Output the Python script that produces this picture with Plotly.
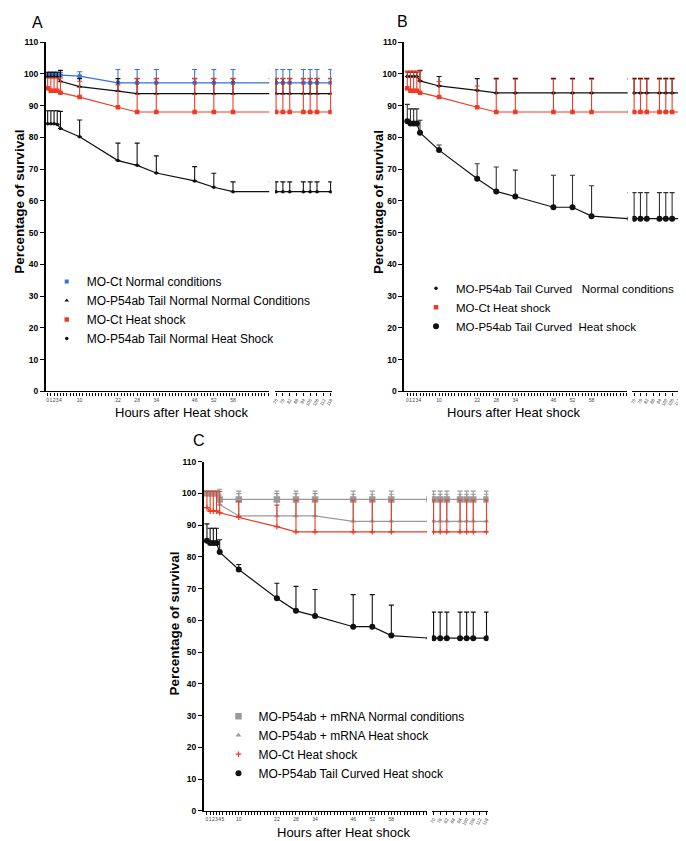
import plotly.graph_objects as go

# ---------------- data ----------------
hours = [0, 1, 2, 3, 4, 10, 22, 28, 34, 46, 52, 58, 70, 76, 82, 94, 100, 106, 118]
left_labels_ab = [0, 1, 2, 3, 4, 10, 22, 28, 34, 46, 52, 58]
left_labels_c = [0, 1, 2, 3, 4, 5, 10, 22, 28, 34, 46, 52, 58]
right_ticks = [70, 76, 82, 88, 94, 100, 106, 112, 118]
y_ticks = [0, 10, 20, 30, 40, 50, 60, 70, 80, 90, 100, 110]

# Panel A
a_names = ["MO-Ct Normal conditions",
           "MO-P54ab Tail Normal Normal Conditions",
           "MO-Ct Heat shock",
           "MO-P54ab Tail Normal Heat Shock"]
a_ct_nc = [99.6, 99.6, 99.6, 99.6, 99.6, 99.3, 97.2, 97.2, 97.2, 97.2, 97.2, 97.2, 97.2, 97.2, 97.2, 97.2, 97.2, 97.2, 97.2]
a_ct_nc_err = [0.9, 0.9, 0.9, 0.9, 0.9, 1.4, 4.2, 4.2, 4.2, 4.2, 4.2, 4.2, 4.2, 4.2, 4.2, 4.2, 4.2, 4.2, 4.2]
a_tn_nc = [99.0, 99.0, 99.0, 99.0, 97.7, 96.0, 94.6, 93.8, 93.8, 93.8, 93.8, 93.8, 93.8, 93.8, 93.8, 93.8, 93.8, 93.8, 93.8]
a_tn_nc_err = [1.5, 1.5, 1.5, 1.5, 3.4, 2.5, 3.9, 4.7, 4.7, 4.7, 4.7, 4.7, 4.7, 4.7, 4.7, 4.7, 4.7, 4.7, 4.7]
a_ct_hs = [95.5, 94.7, 94.7, 94.7, 94.1, 92.7, 89.5, 88.0, 88.0, 88.0, 88.0, 88.0, 88.0, 88.0, 88.0, 88.0, 88.0, 88.0, 88.0]
a_ct_hs_err = [3.2, 4.0, 4.0, 4.0, 4.6, 5.0, 7.0, 10.6, 10.6, 10.6, 10.6, 10.6, 10.6, 10.6, 10.6, 10.6, 10.6, 10.6, 10.6]
a_tn_hs = [84.3, 84.3, 84.3, 84.1, 82.8, 80.2, 72.7, 71.2, 68.8, 66.3, 64.3, 62.9, 62.9, 62.9, 62.9, 62.9, 62.9, 62.9, 62.9]
a_tn_hs_err = [4.1, 4.1, 4.1, 4.3, 5.4, 5.3, 5.5, 7.0, 5.4, 4.5, 4.4, 3.1, 3.1, 3.1, 3.1, 3.1, 3.1, 3.1, 3.1]

# Panel B
b_names = ["MO-P54ab Tail Curved   Normal conditions",
           "MO-Ct Heat shock",
           "MO-P54ab Tail Curved  Heat shock"]
b_tc_nc = [99.2, 99.2, 99.2, 99.2, 97.8, 96.2, 94.8, 94.0, 94.0, 94.0, 94.0, 94.0, 94.0, 94.0, 94.0, 94.0, 94.0, 94.0, 94.0]
b_tc_nc_err = [1.4, 1.4, 1.4, 1.4, 3.3, 3.0, 3.7, 4.6, 4.6, 4.6, 4.6, 4.6, 4.6, 4.6, 4.6, 4.6, 4.6, 4.6, 4.6]
b_ct_hs = [95.5, 94.7, 94.7, 94.7, 94.1, 92.7, 89.5, 88.0, 88.0, 88.0, 88.0, 88.0, 88.0, 88.0, 88.0, 88.0, 88.0, 88.0, 88.0]
b_ct_hs_err = [5.4, 6.2, 6.2, 6.2, 6.8, 4.9, 6.7, 10.3, 10.3, 10.3, 10.3, 10.3, 10.3, 10.3, 10.3, 10.3, 10.3, 10.3, 10.3]
b_tc_hs = [85.1, 84.4, 84.4, 84.4, 81.5, 76.0, 67.0, 63.0, 61.4, 58.0, 58.0, 55.2, 54.4, 54.4, 54.4, 54.4, 54.4, 54.4, 54.4]
b_tc_hs_err = [5.3, 4.6, 4.6, 4.6, 3.9, 1.6, 4.7, 7.7, 8.3, 10.1, 10.1, 9.6, 8.2, 8.2, 8.2, 8.2, 8.2, 8.2, 8.2]

# Panel C
c_names = ["MO-P54ab + mRNA Normal conditions",
           "MO-P54ab + mRNA Heat shock",
           "MO-Ct Heat shock",
           "MO-P54ab Tail Curved Heat shock"]
c_mr_nc = [100.0, 100.0, 100.0, 100.0, 98.1, 98.1, 98.1, 98.1, 98.1, 98.1, 98.1, 98.1, 98.1, 98.1, 98.1, 98.1, 98.1, 98.1, 98.1]
c_mr_nc_err = [0.7, 0.7, 0.7, 0.7, 3.2, 2.6, 2.6, 2.6, 2.6, 2.6, 2.6, 2.6, 2.6, 2.6, 2.6, 2.6, 2.6, 2.6, 2.6]
c_mr_hs = [100.0, 100.0, 100.0, 100.0, 96.5, 92.9, 92.9, 92.9, 92.9, 91.2, 91.2, 91.2, 91.2, 91.2, 91.2, 91.2, 91.2, 91.2, 91.2]
c_mr_hs_err = [0.7, 0.7, 0.7, 0.7, 3.0, 7.0, 7.0, 7.0, 7.0, 8.5, 8.5, 8.5, 8.5, 8.5, 8.5, 8.5, 8.5, 8.5, 8.5]
c_ct_hs = [95.5, 94.4, 94.4, 94.4, 93.9, 92.5, 89.5, 87.9, 87.9, 87.9, 87.9, 87.9, 87.9, 87.9, 87.9, 87.9, 87.9, 87.9, 87.9]
c_ct_hs_err = [5.1, 6.2, 6.2, 6.2, 6.7, 5.0, 6.8, 10.0, 10.0, 10.0, 10.0, 10.0, 10.0, 10.0, 10.0, 10.0, 10.0, 10.0, 10.0]
c_tc_hs = [85.1, 84.4, 84.4, 84.4, 81.5, 76.0, 67.0, 63.0, 61.4, 58.0, 58.0, 55.2, 54.4, 54.4, 54.4, 54.4, 54.4, 54.4, 54.4]
c_tc_hs_err = [5.3, 4.6, 4.6, 4.6, 3.9, 1.6, 4.7, 7.7, 8.3, 10.1, 10.1, 9.6, 8.2, 8.2, 8.2, 8.2, 8.2, 8.2, 8.2]

# ---------------- styling / layout ----------------
W, H = 686, 841
FONT = "Liberation Sans, Arial, sans-serif"
BLUE = "#3b6fd9"
RED = "#ee3b24"
GREY = "#9a9a9a"
BLACK = "#111111"


def fx(p):
    return p / W


def fy(p):
    return 1 - p / H


panels = {
    "A": dict(xl="x", xr="x2", y="y", dom_l=(35, 260), dom_r=(266, 323),
              rng_l=(-0.6, 69.3), rng_r=(69.1, 118.9), ydom=(29.5, 383),
              labels=left_labels_ab, legend="legend", legfont=12,
              letter=(27, 10), ytitle=(9, 191), xtitle=(172, 404),
              leg=(36, 257)),
    "B": dict(xl="x3", xr="x4", y="y2", dom_l=(396, 621), dom_r=(626, 680),
              rng_l=(-1.0, 69.3), rng_r=(68.4, 119.2), ydom=(29.5, 383),
              labels=left_labels_ab, legend="legend2", legfont=11.5,
              letter=(394, 9), ytitle=(370, 191), xtitle=(506, 404),
              leg=(408, 264)),
    "C": dict(xl="x5", xr="x6", y="y3", dom_l=(194, 419), dom_r=(424, 481),
              rng_l=(-1.06, 69.2), rng_r=(68.5, 119.8), ydom=(454, 807.5),
              labels=left_labels_c, legend="legend3", legfont=12,
              letter=(189, 433), ytitle=(165, 618), xtitle=(335, 829),
              leg=(209, 697)),
}

fig = go.Figure()


def add_series(p, name, yvals, err, color, symbol, msize, errcolor=None, lw=1.2, mline=0):
    cfg = panels[p]
    errcolor = errcolor or color
    mk = dict(color=color, symbol=symbol, size=msize, line=dict(width=mline, color=color))
    # legend entry (marker only, like the reference's compact key)
    fig.add_trace(go.Scatter(
        x=[None], y=[None], name=name, mode="markers",
        xaxis=cfg["xl"], yaxis=cfg["y"], legend=cfg["legend"],
        showlegend=True, legendgroup=p + name, marker=mk))
    n_left = hours.index(70) + 1
    for part in ("left", "right"):
        if part == "left":
            xs, ys, es = hours[:n_left], yvals[:n_left], err[:n_left]
            xa = cfg["xl"]
        else:
            xs, ys, es = hours[n_left - 1:], yvals[n_left - 1:], err[n_left - 1:]
            xa = cfg["xr"]
        fig.add_trace(go.Scatter(
            x=xs, y=ys, name=name, mode="lines+markers",
            xaxis=xa, yaxis=cfg["y"], legend=cfg["legend"],
            showlegend=False, legendgroup=p + name,
            line=dict(color=color, width=lw),
            marker=mk,
            error_y=dict(type="data", symmetric=False, array=es,
                         arrayminus=[0] * len(es), color=errcolor,
                         thickness=1.1, width=2.5),
            hoverinfo="x+y+name",
        ))


add_series("A", a_names[0], a_ct_nc, a_ct_nc_err, BLUE, "square", 4)
add_series("A", a_names[1], a_tn_nc, a_tn_nc_err, BLACK, "triangle-up", 4)
add_series("A", a_names[2], a_ct_hs, a_ct_hs_err, RED, "square", 4.5)
add_series("A", a_names[3], a_tn_hs, a_tn_hs_err, BLACK, "circle", 3.5)

add_series("B", b_names[0], b_tc_nc, b_tc_nc_err, BLACK, "circle", 3.5)
add_series("B", b_names[1], b_ct_hs, b_ct_hs_err, RED, "square", 4.5)
add_series("B", b_names[2], b_tc_hs, b_tc_hs_err, BLACK, "circle", 6, errcolor="#333333")

add_series("C", c_names[0], c_mr_nc, c_mr_nc_err, GREY, "square", 6.5)
add_series("C", c_names[1], c_mr_hs, c_mr_hs_err, GREY, "triangle-up", 5)
add_series("C", c_names[2], c_ct_hs, c_ct_hs_err, RED, "cross-thin", 4, mline=1.2)
add_series("C", c_names[3], c_tc_hs, c_tc_hs_err, BLACK, "circle", 6)

layout = dict(
    width=W, height=H, margin=dict(l=0, r=0, t=0, b=0),
    paper_bgcolor="white", plot_bgcolor="white",
    font=dict(family=FONT, color="black"),
    showlegend=True, hovermode="closest",
)

annotations = []
axis_num = {"x": "xaxis", "x2": "xaxis2", "x3": "xaxis3", "x4": "xaxis4",
            "x5": "xaxis5", "x6": "xaxis6", "y": "yaxis", "y2": "yaxis2", "y3": "yaxis3"}

for key, cfg in panels.items():
    ydom = [fy(cfg["ydom"][1]), fy(cfg["ydom"][0])]
    common_x = dict(showline=True, linecolor="black", linewidth=1.3,
                    ticks="outside", tickcolor="black", ticklen=3, tickwidth=1,
                    showgrid=False, zeroline=False, anchor=cfg["y"],
                    tickfont=dict(size=5, color="#444444", family=FONT))
    layout[axis_num[cfg["xl"]]] = dict(
        common_x, domain=[fx(cfg["dom_l"][0]), fx(cfg["dom_l"][1])],
        range=list(cfg["rng_l"]), tickmode="array",
        tickvals=list(range(0, 70)),
        ticktext=[str(v) if v in cfg["labels"] else "" for v in range(0, 70)],
        tickangle=0)
    layout[axis_num[cfg["xr"]]] = dict(
        common_x, domain=[fx(cfg["dom_r"][0]), fx(cfg["dom_r"][1])],
        range=list(cfg["rng_r"]), tickmode="array",
        tickvals=right_ticks, ticktext=[str(v) for v in right_ticks],
        tickangle=-60, tickfont=dict(size=4.5, color="#444444", family=FONT))
    layout[axis_num[cfg["y"]]] = dict(
        domain=ydom, range=[0, 110], anchor=cfg["xl"],
        showline=True, linecolor="black", linewidth=1.5,
        ticks="outside", ticklen=4, tickwidth=1, tickcolor="black",
        tickmode="array", tickvals=y_ticks,
        tickfont=dict(size=8.5, weight="bold", family=FONT, color="black"),
        showgrid=False, zeroline=False)
    layout[cfg["legend"]] = dict(
        x=fx(cfg["leg"][0]), y=fy(cfg["leg"][1]), xanchor="left", yanchor="top",
        bgcolor="rgba(0,0,0,0)", borderwidth=0, itemwidth=30,
        font=dict(size=cfg["legfont"], family=FONT, color="black"), tracegroupgap=0)
    annotations.append(dict(text=key, x=fx(cfg["letter"][0]), y=fy(cfg["letter"][1]),
                            xref="paper", yref="paper", showarrow=False,
                            xanchor="center", yanchor="middle",
                            font=dict(size=16, family=FONT, color="black")))
    annotations.append(dict(text="Percentage of survival", x=fx(cfg["ytitle"][0]),
                            y=fy(cfg["ytitle"][1]), xref="paper", yref="paper",
                            showarrow=False, textangle=-90,
                            xanchor="center", yanchor="middle",
                            font=dict(size=13.5, weight="bold", family=FONT, color="black")))
    annotations.append(dict(text="Hours after Heat shock", x=fx(cfg["xtitle"][0]),
                            y=fy(cfg["xtitle"][1]), xref="paper", yref="paper",
                            showarrow=False, xanchor="center", yanchor="middle",
                            font=dict(size=13, family=FONT, color="black")))

layout["annotations"] = annotations
fig.update_layout(**layout)
fig.write_html("out.html")
